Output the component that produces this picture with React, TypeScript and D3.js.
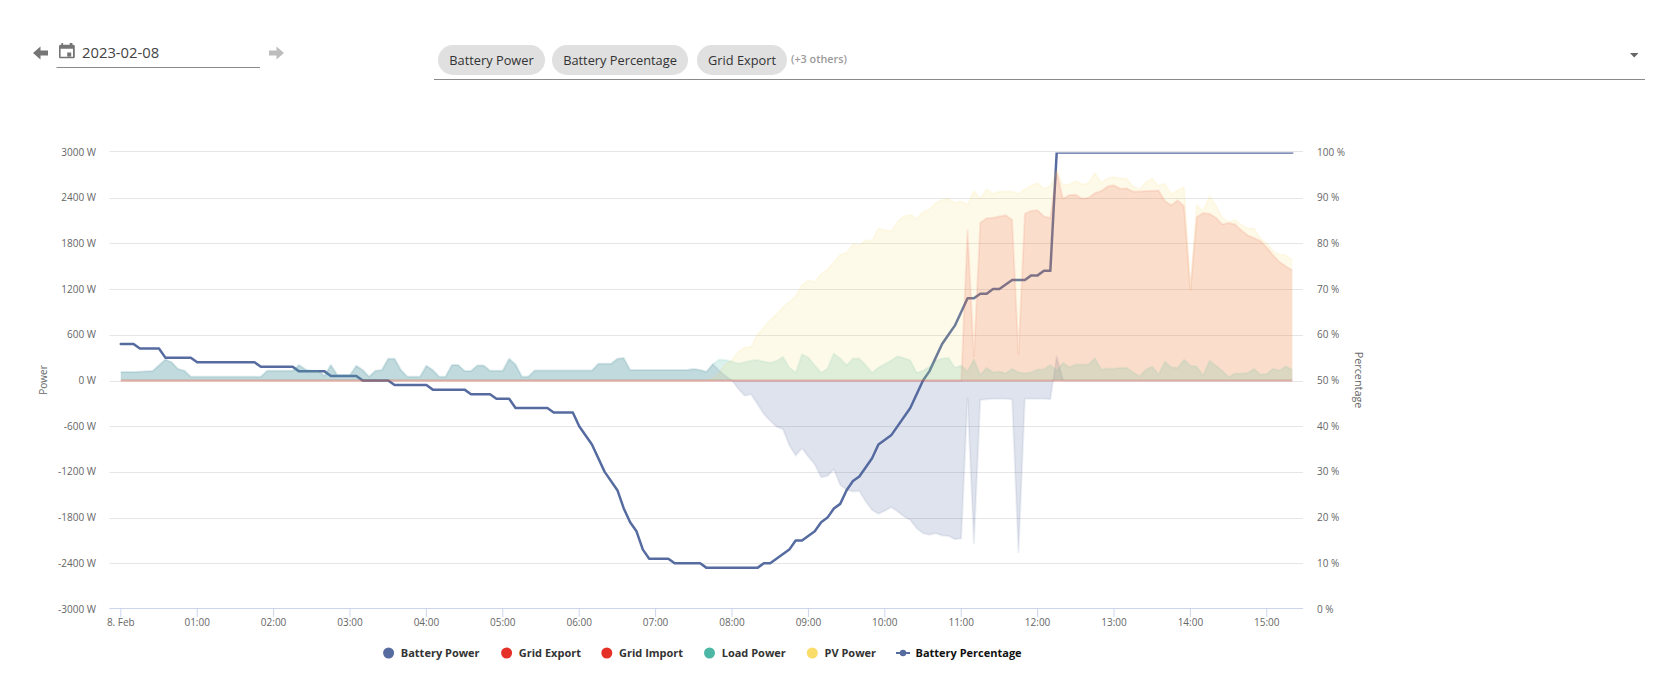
import React from "react";
import * as d3 from "d3";

const minutes: number[] = d3.range(0, 925, 5);

const loadPower = [
  111,111,111,115,120,124,200,277,238,150,129,50,
  50,50,50,50,50,50,50,50,50,50,50,129,
  129,129,129,129,203,146,124,124,63,203,72,72,
  72,194,137,50,129,137,285,285,137,50,50,50,
  194,137,50,50,202,202,124,124,198,198,128,128,
  128,285,211,50,50,132,132,132,132,132,132,132,
  132,132,132,220,220,220,285,294,137,137,137,137,
  137,137,137,137,137,137,150,137,115,215,277,270,
  250,224,240,262,268,250,233,255,312,175,102,346,
  303,200,102,159,355,290,202,290,290,202,102,172,
  215,265,320,295,268,102,130,180,260,290,300,170,
  197,122,275,74,166,109,118,96,153,109,92,109,
  144,149,205,131,232,175,210,210,210,297,144,157,
  153,166,166,109,57,144,183,79,249,175,166,275,
  197,183,66,262,197,131,48,92,92,101,153,79,
  87,153,131,188,140,
];

const batteryPower = [
  111,111,111,115,120,124,200,277,238,150,129,50,
  50,50,50,50,50,50,50,50,50,50,50,129,
  129,129,129,129,203,146,124,124,63,203,72,72,
  72,194,137,50,129,137,285,285,137,50,50,50,
  194,137,50,50,202,202,124,124,198,198,128,128,
  128,285,211,50,50,132,132,132,132,132,132,132,
  132,132,132,220,220,220,285,294,137,137,137,137,
  137,137,137,137,137,137,150,137,115,215,130,60,
  0,-110,-200,-182,-310,-440,-530,-606,-640,-850,-986,-890,
  -1000,-1100,-1270,-1253,-1165,-1371,-1436,-1458,-1450,-1590,-1700,-1750,
  -1712,-1664,-1720,-1786,-1830,-1940,-2005,-2026,-2005,-2035,-2040,-2083,
  -2075,-235,-2136,-256,-245,-240,-240,-240,-250,-2256,-240,-240,
  -240,-240,-245,315,0,0,0,0,0,0,0,0,
  0,0,0,0,0,0,0,0,0,0,0,0,
  0,0,0,0,0,0,0,0,0,0,0,0,
  0,0,0,0,0,
];

const gridExport = [
  0,0,0,0,0,0,0,0,0,0,0,0,
  0,0,0,0,0,0,0,0,0,0,0,0,
  0,0,0,0,0,0,0,0,0,0,0,0,
  0,0,0,0,0,0,0,0,0,0,0,0,
  0,0,0,0,0,0,0,0,0,0,0,0,
  0,0,0,0,0,0,0,0,0,0,0,0,
  0,0,0,0,0,0,0,0,0,0,0,0,
  0,0,0,0,0,0,0,0,0,0,0,0,
  0,0,0,0,0,0,0,0,0,0,0,0,
  0,0,0,0,0,0,0,0,0,0,0,0,
  0,0,0,0,0,0,0,0,0,0,0,0,
  0,1972,320,2072,2129,2138,2155,2169,2112,350,2190,2230,
  2234,2155,2134,2737,2387,2435,2440,2387,2400,2461,2488,2549,
  2562,2518,2523,2483,2483,2488,2492,2496,2357,2300,2365,2287,
  1194,2147,2199,2190,2138,2051,2068,2051,1972,1906,1871,1832,
  1745,1644,1557,1500,1448,
];

const gridImport = [
  0,0,0,0,0,0,0,0,0,0,0,0,
  0,0,0,0,0,0,0,0,0,0,0,0,
  0,0,0,0,0,0,0,0,0,0,0,0,
  0,0,0,0,0,0,0,0,0,0,0,0,
  0,0,0,0,0,0,0,0,0,0,0,0,
  0,0,0,0,0,0,0,0,0,0,0,0,
  0,0,0,0,0,0,0,0,0,0,0,0,
  0,0,0,0,0,0,0,0,0,0,0,0,
  0,0,0,0,0,0,0,0,0,0,0,0,
  0,0,0,0,0,0,0,0,0,0,0,0,
  0,0,0,0,0,0,0,0,0,0,0,0,
  0,0,0,0,0,0,0,0,0,0,0,0,
  0,0,0,0,0,0,0,0,0,0,0,0,
  0,0,0,0,0,0,0,0,0,0,0,0,
  0,0,0,0,0,0,0,0,0,0,0,0,
  0,0,0,0,0,
];

const pvPower = [
  0,0,0,0,0,0,0,0,0,0,0,0,
  0,0,0,0,0,0,0,0,0,0,0,0,
  0,0,0,0,0,0,0,0,0,0,0,0,
  0,0,0,0,0,0,0,0,0,0,0,0,
  0,0,0,0,0,0,0,0,0,0,0,0,
  0,0,0,0,0,0,0,0,0,0,0,0,
  0,0,0,0,0,0,0,0,0,0,0,0,
  0,0,0,0,0,0,0,0,0,30,100,215,
  268,377,434,442,600,700,790,870,960,1030,1110,1250,
  1316,1295,1395,1456,1550,1653,1679,1788,1775,1841,1832,1994,
  1975,1959,2081,2156,2177,2125,2212,2247,2330,2374,2387,2330,
  2352,2308,2488,2387,2514,2453,2479,2481,2483,2453,2510,2562,
  2592,2518,2553,2760,2562,2575,2619,2575,2592,2728,2597,2658,
  2671,2654,2649,2549,2505,2606,2649,2553,2584,2444,2496,2540,
  1194,2300,2221,2422,2300,2138,2081,2112,2046,1994,1994,1863,
  1797,1701,1657,1644,1579,
];

const percentMinutes = [
  0,10,15,30,35,55,60,105,110,135,140,160,165,185,190,210,215,240,245,270,275,290,295,305,310,335,340,355,
  360,370,380,390,395,400,405,410,415,430,435,455,460,500,505,510,525,530,535,545,550,555,560,565,570,575,
  580,590,595,605,620,630,635,640,645,650,655,660,665,670,675,680,685,690,700,710,715,720,725,730,735,920,
];
const batteryPercentage = [
  58,58,57,57,55,55,54,54,53,53,52,52,51,51,50,50,49,49,48,48,47,47,46,46,44,44,43,43,
  40,36,30,26,22,19,17,13,11,11,10,10,9,9,10,10,13,15,15,17,19,20,22,23,26,28,
  29,33,36,38,44,50,52,55,58,60,62,65,68,68,69,69,70,70,72,72,73,73,74,74,99.9,99.9,
];

const powerTicks = [3000, 2400, 1800, 1200, 600, 0, -600, -1200, -1800, -2400, -3000];
const percentTicks = [100, 90, 80, 70, 60, 50, 40, 30, 20, 10, 0];
const hourTicks = [0, 60, 120, 180, 240, 300, 360, 420, 480, 540, 600, 660, 720, 780, 840, 900];
const hourLabels = ["8. Feb","01:00","02:00","03:00","04:00","05:00","06:00","07:00","08:00","09:00","10:00","11:00","12:00","13:00","14:00","15:00"];

const BLUE = "#566ba0";
const RED = "#e53027";
const TEAL = "#4db7a5";
const YELLOW = "#fadc69";

const areaSeries = [
  { name: "Battery Power", values: batteryPower, color: BLUE, fillO: 0.19, lineO: 0.1 },
  { name: "Grid Export", values: gridExport, color: RED, fillO: 0.16, lineO: 0.1 },
  { name: "Grid Import", values: gridImport, color: RED, fillO: 0.16, lineO: 0.3 },
  { name: "Load Power", values: loadPower, color: TEAL, fillO: 0.2, lineO: 0.1 },
  { name: "PV Power", values: pvPower, color: YELLOW, fillO: 0.15, lineO: 0.1 },
];

const chips = [
  { label: "Battery Power", x0: 438, x1: 545 },
  { label: "Battery Percentage", x0: 552, x1: 688 },
  { label: "Grid Export", x0: 697, x1: 787 },
];

const legendItems = [
  { label: "Battery Power", color: BLUE, cx: 388.6 },
  { label: "Grid Export", color: RED, cx: 506.6 },
  { label: "Grid Import", color: RED, cx: 606.8 },
  { label: "Load Power", color: TEAL, cx: 709.5 },
  { label: "PV Power", color: YELLOW, cx: 812.3 },
];

const FONT = "'Open Sans', sans-serif";

export default function App() {
  const x = d3.scaleLinear().domain([0, 920]).range([120.8, 120.8 + (76.4 * 920) / 60]);
  const yP = d3.scaleLinear().domain([-3000, 3000]).range([609, 152]);
  const yPct = d3.scaleLinear().domain([0, 100]).range([609, 152]);

  const line = (vals: number[]) =>
    d3.line<number>().x((_, i) => x(minutes[i])).y((d) => yP(d))(vals) as string;
  const area = (vals: number[]) =>
    d3.area<number>().x((_, i) => x(minutes[i])).y0(yP(0)).y1((d) => yP(d))(vals) as string;
  const pctLine = d3.line<number>().x((_, i) => x(percentMinutes[i])).y((d) => yPct(d))(batteryPercentage) as string;

  return (
    <svg width={1653} height={700} style={{ position: "absolute", left: 0, top: 0, fontFamily: FONT }}>
      <defs>
        <clipPath id="plot-clip">
          <rect x={100} y={152.5} width={1210} height={460} />
        </clipPath>
      </defs>
      <rect width={1653} height={700} fill="#fff" />

      {/* date picker */}
      <path d="M48 50.5 H40.5 V46.5 L33 53 L40.5 59.5 V55.5 H48 Z" fill="#757575" />
      <path d="M70.5 53.5h-4v4h4v-4zM69 44v1.7h-6.6V44h-1.7v1.7h-.8c-.9 0-1.6.7-1.6 1.6v10.4c0 .9.7 1.6 1.6 1.6h12.6c.9 0 1.6-.7 1.6-1.6V47.3c0-.9-.7-1.6-1.6-1.6h-.8V44H69zm3.3 13.7H59.9v-8h12.4v8z" fill="#757575" transform="translate(0.7,-1)" />
      <text x={82} y={58} fontSize={14.8} fill="#444">2023-02-08</text>
      <line x1={56.5} x2={260} y1={67.5} y2={67.5} stroke="#8a8a8a" />
      <path d="M269 50.5 H276.5 V46.5 L284 53 L276.5 59.5 V55.5 H269 Z" fill="#bdbdbd" />

      {/* series selector */}
      {chips.map((c) => (
        <g key={c.label}>
          <rect x={c.x0} y={45} width={c.x1 - c.x0} height={30} rx={15} fill="#e0e0e0" />
          <text x={(c.x0 + c.x1) / 2} y={64.5} textAnchor="middle" fontSize={12.8} fill="#333">{c.label}</text>
        </g>
      ))}
      <text x={791} y={62.5} fontSize={10.8} fontWeight={600} fill="#9a9a9a">(+3 others)</text>
      <line x1={434} x2={1645} y1={79.5} y2={79.5} stroke="#8a8a8a" />
      <path d="M1630 53 H1638.5 L1634.25 57.5 Z" fill="#666" />

      {/* grid */}
      {powerTicks.filter((t) => t !== -3000).map((t) => (
        <line key={t} x1={109.3} x2={1303} y1={Math.round(yP(t)) + (t === 3000 ? -0.5 : 0.5)} y2={Math.round(yP(t)) + (t === 3000 ? -0.5 : 0.5)} stroke="#e6e6e6" />
      ))}
      <line x1={109.3} x2={1303} y1={608.5} y2={608.5} stroke="#ccd6eb" />
      {hourTicks.map((t) => (
        <line key={t} x1={x(t)} x2={x(t)} y1={608.5} y2={617} stroke="#ccd6eb" />
      ))}

      {/* percentage line sits under the translucent areas */}
      <path d={pctLine} clipPath="url(#plot-clip)" fill="none" stroke={BLUE} strokeWidth={2.5} strokeLinejoin="round" strokeLinecap="round" />

      {/* areas */}
      {areaSeries.map((s) => (
        <g key={s.name}>
          <path d={area(s.values)} fill={s.color} fillOpacity={s.fillO} />
          <path d={line(s.values)} fill="none" stroke={s.color} strokeOpacity={s.lineO} strokeWidth={2} strokeLinejoin="round" />
        </g>
      ))}

      {/* axis labels */}
      {powerTicks.map((t) => (
        <text key={t} x={96} y={yP(t) + 3.5} textAnchor="end" fontSize={10} fill="#666">{`${t} W`}</text>
      ))}
      {percentTicks.map((t) => (
        <text key={t} x={1317} y={yPct(t) + 3.5} fontSize={10} fill="#666">{`${t} %`}</text>
      ))}
      {hourTicks.map((t, i) => (
        <text key={t} x={x(t)} y={626} textAnchor="middle" fontSize={10} fill="#666">{hourLabels[i]}</text>
      ))}
      <text transform="translate(47,380) rotate(-90)" textAnchor="middle" fontSize={10} fill="#666">Power</text>
      <text transform="translate(1354.5,380) rotate(90)" textAnchor="middle" fontSize={10.8} fill="#666">Percentage</text>

      {/* legend */}
      {legendItems.map((l) => (
        <g key={l.label}>
          <circle cx={l.cx} cy={653} r={5.5} fill={l.color} />
          <text x={l.cx + 12.2} y={657} fontSize={11} fontWeight={700} fill="#333">{l.label}</text>
        </g>
      ))}
      <line x1={896} x2={910} y1={653} y2={653} stroke={BLUE} strokeWidth={2} />
      <circle cx={903} cy={653} r={3.2} fill={BLUE} />
      <text x={915.5} y={657} fontSize={11} fontWeight={700} fill="#111">Battery Percentage</text>
    </svg>
  );
}
